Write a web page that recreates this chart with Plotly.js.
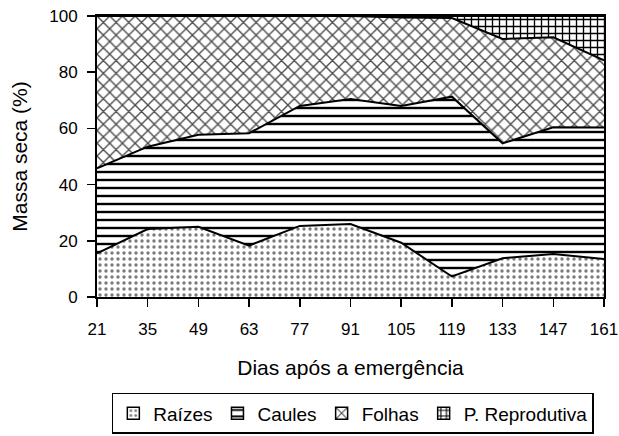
<!DOCTYPE html>
<html>
<head>
<meta charset="utf-8">
<script src="https://cdn.plot.ly/plotly-3.0.1.min.js"></script>
<style>html,body{margin:0;padding:0;background:#fff;}#chart{width:619px;height:436px;}</style>
</head>
<body>
<div id="chart"></div>
<script>
const dias = [21, 35, 49, 63, 77, 91, 105, 119, 133, 147, 161];
const raizes = [15.5, 24.2, 25.0, 18.3, 25.3, 26.0, 19.3, 7.3, 13.8, 15.3, 13.5];
const caules = [30.3, 29.3, 32.7, 40.0, 42.7, 44.5, 48.7, 64.0, 40.9, 45.1, 46.8];
const folhas = [54.2, 46.5, 42.3, 41.7, 32.0, 29.5, 31.5, 28.0, 37.1, 32.0, 23.9];
const reprodutiva = [0, 0, 0, 0, 0, 0, 0.5, 0.7, 8.2, 7.6, 15.8];
const seriesNames = ['Raízes', 'Caules', 'Folhas', 'P. Reprodutiva'];
const tickVals = [21, 35, 49, 63, 77, 91, 105, 119, 133, 147, 161];
const yTicks = [0, 20, 40, 60, 80, 100];

const font = "Liberation Sans, Arial, sans-serif";
const patterns = [
  {shape: '.', fgcolor: '#7a7a7a', bgcolor: 'white', size: 6, solidity: 0.25},
  {shape: '-', fgcolor: 'black', bgcolor: 'white', size: 8, solidity: 0.3},
  {shape: 'x', fgcolor: '#4a4a4a', bgcolor: 'white', size: 9, solidity: 0.28},
  {shape: '+', fgcolor: 'black', bgcolor: 'white', size: 7, solidity: 0.35}
];
const values = [raizes, caules, folhas, reprodutiva];
const data = [];
values.forEach((y, i) => {
  data.push({
    x: dias, y: y, name: seriesNames[i], type: 'scatter', mode: 'lines',
    stackgroup: 'one', showlegend: false,
    line: {color: 'black', width: 2},
    fillcolor: 'white',
    fillpattern: patterns[i],
    hoverinfo: 'skip'
  });
});
// legend entries (square patterned swatches)
values.forEach((y, i) => {
  data.push({
    x: [null], y: [null], name: seriesNames[i], type: 'bar',
    marker: {color: 'white', pattern: patterns[i], line: {color: 'black', width: 1.5}},
    hoverinfo: 'skip', showlegend: true
  });
});
const layout = {
  width: 619, height: 436,
  margin: {l: 97, r: 15, t: 16, b: 139},
  paper_bgcolor: 'white', plot_bgcolor: 'white',
  font: {family: font, color: 'black', size: 17},
  showlegend: true,
  xaxis: {
    range: [21, 161], tickvals: tickVals, ticktext: tickVals.map(String),
    automargin: false,
    ticks: 'outside', ticklen: 8, tickwidth: 1.5, tickcolor: 'black',
    ticklabelstandoff: 8,
    showline: true, linecolor: 'black', linewidth: 2, mirror: true,
    showgrid: false, zeroline: false,
    tickfont: {size: 17, family: font},
    title: {text: 'Dias após a emergência', font: {size: 21, family: font}, standoff: 22}
  },
  yaxis: {
    range: [0, 100], tickvals: yTicks,
    automargin: false,
    ticks: 'outside', ticklen: 8, tickwidth: 1.5, tickcolor: 'black',
    ticklabelstandoff: 6,
    showline: true, linecolor: 'black', linewidth: 2, mirror: true,
    showgrid: false, zeroline: false,
    tickfont: {size: 17, family: font},
    title: {text: 'Massa seca (%)', font: {size: 21, family: font}, standoff: 16}
  },
  legend: {
    orientation: 'h', xref: 'container', yref: 'container',
    x: 0.57, xanchor: 'center', y: 0.005, yanchor: 'bottom',
    bordercolor: 'black', borderwidth: 1.5, bgcolor: 'white',
    font: {size: 19, family: font}, traceorder: 'normal',
    itemwidth: 30
  }
};
Plotly.newPlot('chart', data, layout, {staticPlot: true, displayModeBar: false});
</script>
</body>
</html>
